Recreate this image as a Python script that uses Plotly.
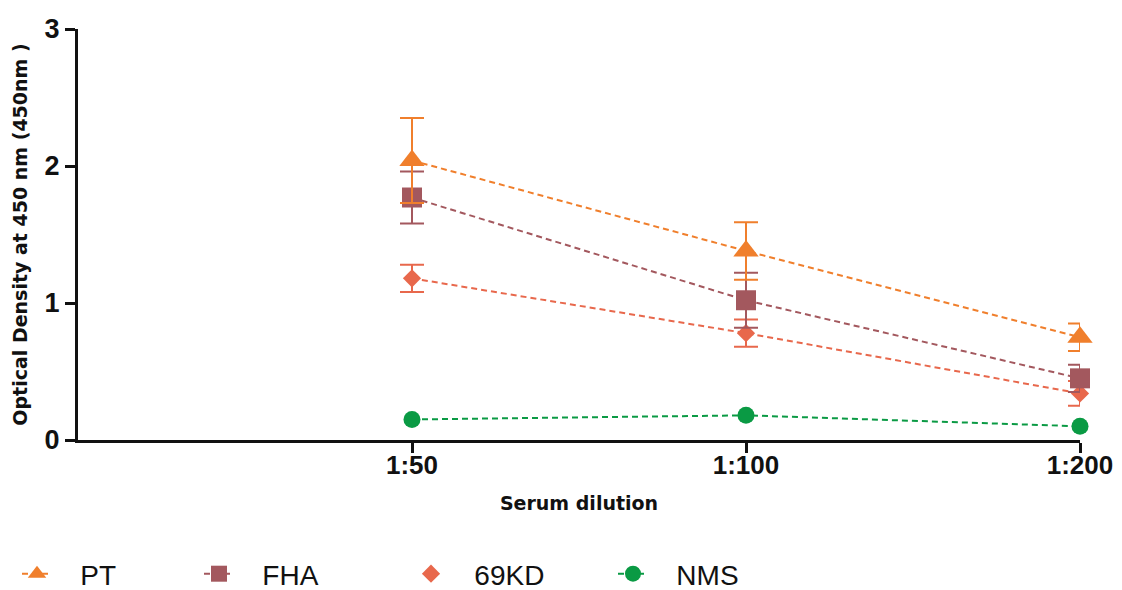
import plotly.graph_objects as go

dilutions = ["1:50", "1:100", "1:200"]
pt_mean = [2.04, 1.38, 0.75]
pt_sd = [0.31, 0.21, 0.10]
fha_mean = [1.77, 1.02, 0.45]
fha_sd = [0.19, 0.20, 0.10]
kd69_mean = [1.18, 0.78, 0.34]
kd69_sd = [0.10, 0.10, 0.09]
nms_mean = [0.15, 0.18, 0.10]

y_ticks = [0, 1, 2, 3]

C_PT = "#F07F2C"
C_FHA = "#A3585E"
C_69 = "#E8684C"
C_NMS = "#0A9A44"

NB = "\u00a0" * 3
DASH = "6px,4px"

fig = go.Figure()

fig.add_trace(go.Scatter(
    x=dilutions, y=nms_mean, name=NB + "NMS", mode="lines+markers",
    line=dict(color=C_NMS, width=2, dash=DASH),
    marker=dict(symbol="circle", size=17, color=C_NMS),
    legend="legend4", cliponaxis=False))

fig.add_trace(go.Scatter(
    x=dilutions, y=kd69_mean, mode="lines", showlegend=False,
    line=dict(color=C_69, width=2, dash=DASH), hoverinfo="skip"))
fig.add_trace(go.Scatter(
    x=dilutions, y=kd69_mean, name=NB + "69KD", mode="markers",
    marker=dict(symbol="diamond", size=14, color=C_69),
    error_y=dict(type="data", array=kd69_sd, color=C_69, thickness=2, width=12),
    legend="legend3", cliponaxis=False))

fig.add_trace(go.Scatter(
    x=dilutions, y=fha_mean, name=NB + "FHA", mode="lines+markers",
    line=dict(color=C_FHA, width=2, dash=DASH),
    marker=dict(symbol="square", size=20, color=C_FHA),
    error_y=dict(type="data", array=fha_sd, color=C_FHA, thickness=2, width=12),
    legend="legend2", cliponaxis=False))

fig.add_trace(go.Scatter(
    x=dilutions, y=pt_mean, name=NB + "PT", mode="lines+markers",
    line=dict(color=C_PT, width=2, dash=DASH),
    marker=dict(symbol="triangle-up", size=22, color=C_PT),
    error_y=dict(type="data", array=pt_sd, color=C_PT, thickness=2, width=12),
    legend="legend", cliponaxis=False))

# page body has an 8px margin; compensate so the plot lands where the reference has it
OFF = 8
W, H = 1122 - OFF, 590 - OFF
L, R, T, B = 78 - OFF, 42, 29 - OFF, 150
pw = W - L - R
ph = H - T - B

def sx(screen_px):
    return (screen_px - OFF - L) / pw

def sy(screen_px):
    return (T + ph - (screen_px - OFF)) / ph

leg_font = dict(family="Liberation Sans Narrow, Liberation Sans, Arial", size=28, color="#111111")
leg_common = dict(orientation="h", yanchor="middle", y=sy(574), xanchor="left",
                  font=leg_font, bgcolor="rgba(0,0,0,0)", borderwidth=0)

fig.update_layout(
    width=W, height=H,
    margin=dict(l=L, r=R, t=T, b=B, autoexpand=False),
    plot_bgcolor="white", paper_bgcolor="white",
    showlegend=True,
    legend=dict(x=sx(36 - 19), **leg_common),
    legend2=dict(x=sx(218 - 19), **leg_common),
    legend3=dict(x=sx(430 - 19), **leg_common),
    legend4=dict(x=sx(632 - 19), **leg_common),
    xaxis=dict(
        type="category", range=[-1, 2], automargin=False,
        showline=True, linecolor="#111111", linewidth=3,
        ticks="outside", ticklen=10, tickwidth=3, tickcolor="#111111",
        ticklabelstandoff=-10,
        showgrid=False, zeroline=False,
        tickfont=dict(family="Liberation Sans, Arial", size=26, color="#111111", weight="bold"),
        title=dict(text="Serum dilution",
                   font=dict(family="DejaVu Sans, Liberation Sans", size=19, color="#111111", weight="bold"),
                   standoff=18),
    ),
    yaxis=dict(
        range=[0, 3], tickvals=y_ticks, ticktext=[str(v) for v in y_ticks], automargin=False,
        showline=True, linecolor="#111111", linewidth=3,
        ticks="outside", ticklen=10, tickwidth=3, tickcolor="#111111",
        showgrid=False, zeroline=False,
        tickfont=dict(family="Liberation Sans, Arial", size=27, color="#111111", weight="bold"),
        title=dict(text="Optical Density at 450 nm (450nm )",
                   font=dict(family="DejaVu Sans, Liberation Sans", size=19, color="#111111", weight="bold"),
                   standoff=12),
    ),
)

fig.write_html("out.html")
